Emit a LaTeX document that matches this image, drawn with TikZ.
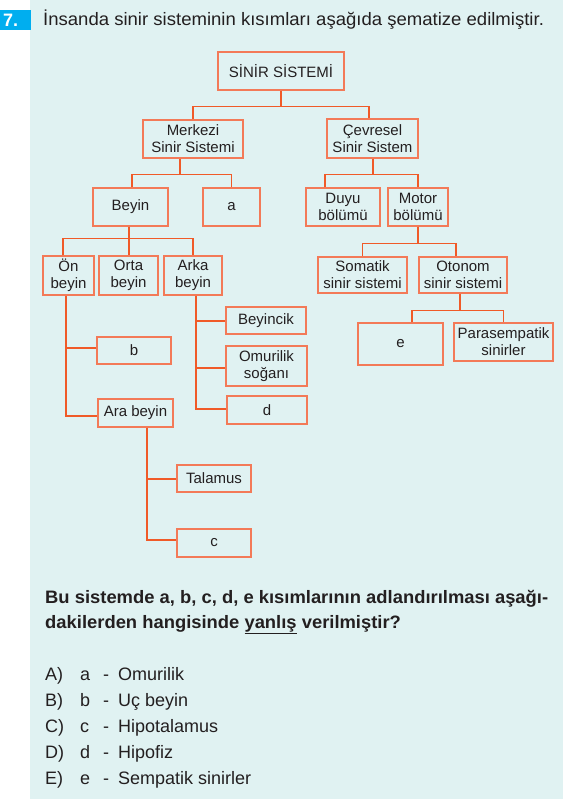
\documentclass[tikz,border=0pt]{standalone}
\usepackage{fontspec}
\setmainfont{Liberation Sans}
\usepackage{xcolor}

\definecolor{panelc}{HTML}{E0F2F2}
\definecolor{hatc}{HTML}{F05A28}
\definecolor{kutuc}{HTML}{F37A58}
\definecolor{numc}{HTML}{00AEEF}
\definecolor{yazic}{HTML}{231F20}

\newcommand{\kutufont}{\fontsize{15}{17}\selectfont}
\newcommand{\sorufont}{\fontsize{18}{22}\selectfont}

\tikzset{
  kutu/.style 2 args={draw=kutuc, line width=1.4pt, align=center, inner sep=0pt,
    minimum width=#1pt, minimum height=#2pt, font=\kutufont, text=yazic},
  stem/.style={draw=hatc, line width=2pt},
  twig/.style={draw=hatc, line width=1.3pt},
  satir/.style={anchor=base west, inner sep=0pt, text=yazic, font=\sorufont}
}

\begin{document}
\begin{tikzpicture}[x=1pt,y=-1pt]
        \useasboundingbox (0,0) rectangle (573,799);
        \fill[white] (0,0) rectangle (573,799);
        \fill[panelc] (30,0) rectangle (563,799);
        \fill[numc] (0,10) rectangle (31,30);
        \node[satir, text=white, font=\sorufont\bfseries] (no) at (3,27) {7.};
        \node[satir] (baslik) at (43,26) {\scalebox{1.03}[1]{İnsanda sinir sisteminin kısımları aşağıda şematize edilmiştir.}};

        % sema
        \node[kutu={126}{38}] at (281,71) (sinir) {SİNİR SİSTEMİ};
        \node[kutu={100}{38}] at (193,139) (merkezi) {Merkezi\\Sinir Sistemi};
        \node[kutu={91}{39}] at (372.5,138.5) (cevresel) {Çevresel\\Sinir Sistem};
        \node[kutu={75}{38}] at (130.5,207) (beyin) {Beyin};
        \node[kutu={57}{38}] at (231.5,207) (a) {a};
        \node[kutu={74}{38}] at (343,207) (duyu) {Duyu\\bölümü};
        \node[kutu={60}{38}] at (418,207) (motor) {Motor\\bölümü};
        \node[kutu={51}{39}] at (68.5,275.5) (on) {Ön\\beyin};
        \node[kutu={59}{39}] at (128.5,275.5) (orta) {Orta\\beyin};
        \node[kutu={58}{39}] at (193,275.5) (arka) {Arka\\beyin};
        \node[kutu={89}{36}] at (362.5,275) (somatik) {Somatik\\sinir sistemi};
        \node[kutu={88}{36}] at (463,275) (otonom) {Otonom\\sinir sistemi};
        \node[kutu={85}{42}] at (400.5,344) (e) {e};
        \node[kutu={99}{38}] at (503.5,342) (para) {Parasempatik\\sinirler};
        \node[kutu={74}{27}] at (134,350.5) (b) {b};
        \node[kutu={75}{28}] at (135.5,413) (ara) {Ara beyin};
        \node[kutu={80}{27}] at (266,320.5) (beyincik) {Beyincik};
        \node[kutu={81}{40}] at (266.5,366) (omurilik) {Omurilik\\soğanı};
        \node[kutu={80}{28}] at (267,410) (d) {d};
        \node[kutu={74}{27}] at (214,478.5) (talamus) {Talamus};
        \node[kutu={74}{28}] at (214,543) (c) {c};

        \draw[stem] (sinir.south) -- ++(0,16) coordinate (s1);
        \draw[twig] (merkezi.north) |- (s1) -| ([xshift=-3.5pt]cevresel.north);
        \draw[stem] ([xshift=-13pt]merkezi.south) -- ++(0,16) coordinate (m1);
        \draw[twig] ([xshift=1.5pt]beyin.north) |- (m1) -| (a.north);
        \draw[stem] (cevresel.south) -- ++(0,16) coordinate (c1);
        \draw[twig] ([xshift=-18pt]duyu.north) |- (c1) -| (motor.north);

        \coordinate (b1) at ([yshift=17pt]orta.north);
        \draw[stem] (orta.north |- beyin.south) -- (orta.north);
        \draw[twig] ([xshift=-5.5pt]on.north) |- (b1) -| (arka.north);
        \draw[stem] (motor.south) -- ++(0,17) coordinate (mo1);
        \draw[twig] (somatik.north) |- (mo1) -| ([xshift=-7pt]otonom.north);
        \draw[stem] ([xshift=-3pt]otonom.south) -- ++(0,17) coordinate (o1);
        \draw[twig] ([xshift=11.5pt]e.north) |- (o1) -| (para.north);

        \coordinate (onx) at ([xshift=-2.5pt]on.south);
        \draw[twig] (onx) |- ([yshift=-3pt]ara.west);
        \draw[stem] (onx |- b.west) ++(0,-2.5) -- ([yshift=2.5pt]b.west);
        \coordinate (arx) at ([xshift=3pt]arka.south);
        \draw[twig] (arx) |- ([yshift=1pt]d.west);
        \draw[stem] (arx |- beyincik.west) -- (beyincik.west);
        \draw[stem] (arx |- omurilik.west) ++(0,2) -- ([yshift=-2pt]omurilik.west);
        \coordinate (arax) at ([xshift=11.5pt]ara.south);
        \draw[twig] (arax) |- ([yshift=3pt]c.west);
        \draw[stem] (arax |- talamus.west) -- (talamus.west);

        % soru
        \node[satir, font=\sorufont\bfseries] (soru1) at (45,603) {\scalebox{1.022}[1]{Bu sistemde a, b, c, d, e kısımlarının adlandırılması aşağı-}};
        \node[satir, font=\sorufont\bfseries] (soru2) at (45,628) {\scalebox{1.022}[1]{dakilerden hangisinde \underline{yanlış} verilmiştir?}};
        \foreach \s/\h/\t [count=\i] in {A/a/Omurilik, B/b/Uç beyin, C/c/Hipotalamus, D/d/Hipofiz, E/e/Sempatik sinirler}
        {
            \node[satir] (sec\i) at (45,{654+26*\i}) {\s)};
            \node[satir] (harf\i) at (80,{654+26*\i}) {\h};
            \node[satir] (tire\i) at (103,{654+26*\i}) {-};
            \node[satir] (cevap\i) at (118,{654+26*\i}) {\t};
        }
    \end{tikzpicture}
\end{document}
